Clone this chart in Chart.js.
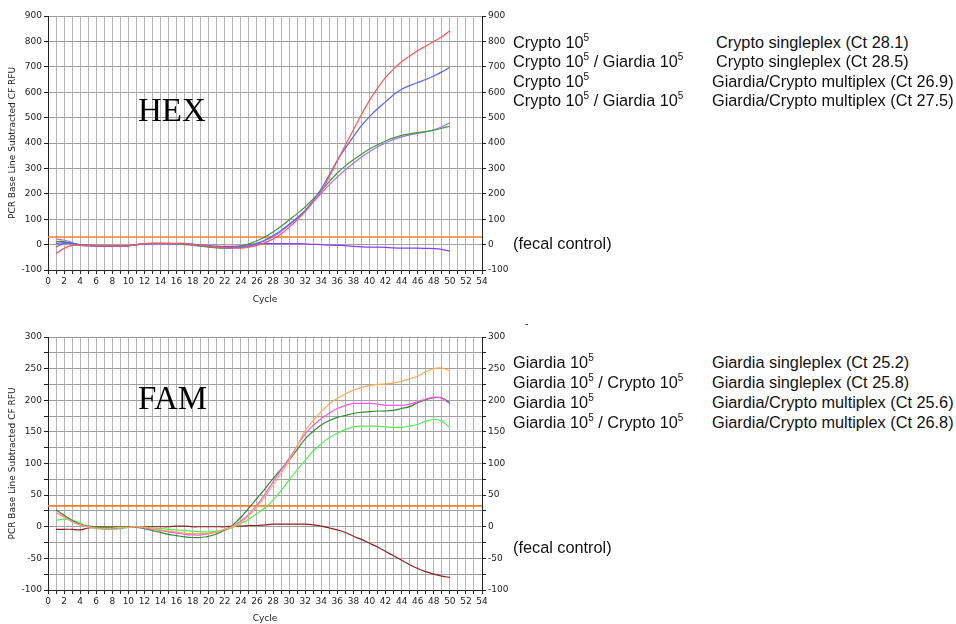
<!DOCTYPE html>
<html>
<head>
<meta charset="UTF-8">
<title>HEX / FAM real-time PCR</title>
<script src="https://cdn.jsdelivr.net/npm/chart.js@4.4.0/dist/chart.umd.min.js"></script>
<style>
    body { margin: 0; background: #fff; width: 956px; height: 624px; position: relative; overflow: hidden;
           font-family: "Liberation Sans", Arial, sans-serif; }
    canvas { position: absolute; left: 0; }
    .t { position: absolute; font-size: 16.3px; line-height: 20px; color: #111; white-space: nowrap; }
    .t sup { font-size: 10px; line-height: 0; vertical-align: 7px; }
    .big { position: absolute; font-family: "Liberation Serif", "Times New Roman", serif; font-size: 33px; line-height: 33px; color: #000; }
</style>
</head>
<body>
    <canvas id="hex" width="530" height="312" style="top:0"></canvas>
    <canvas id="fam" width="530" height="303" style="top:321px"></canvas>

    <div class="big" style="left:138px;top:94px">HEX</div>
    <div class="big" style="left:138px;top:382px">FAM</div>

    <div class="t" style="left:513px;top:32px">Crypto 10<sup>5</sup></div>
    <div class="t" style="left:513px;top:51px">Crypto 10<sup>5</sup> / Giardia 10<sup>5</sup></div>
    <div class="t" style="left:513px;top:71px">Crypto 10<sup>5</sup></div>
    <div class="t" style="left:513px;top:90px">Crypto 10<sup>5</sup> / Giardia 10<sup>5</sup></div>
    <div class="t" style="left:716px;top:32px">Crypto singleplex (Ct 28.1)</div>
    <div class="t" style="left:716px;top:51px">Crypto singleplex (Ct 28.5)</div>
    <div class="t" style="left:712px;top:71px">Giardia/Crypto multiplex (Ct 26.9)</div>
    <div class="t" style="left:712px;top:90px">Giardia/Crypto multiplex (Ct 27.5)</div>
    <div class="t" style="left:513px;top:233px">(fecal control)</div>

    <div class="t" style="left:525px;top:314px;font-size:10px">-</div>

    <div class="t" style="left:513px;top:352px">Giardia 10<sup>5</sup></div>
    <div class="t" style="left:513px;top:372px">Giardia 10<sup>5</sup> / Crypto 10<sup>5</sup></div>
    <div class="t" style="left:513px;top:392px">Giardia 10<sup>5</sup></div>
    <div class="t" style="left:513px;top:412px">Giardia 10<sup>5</sup> / Crypto 10<sup>5</sup></div>
    <div class="t" style="left:712px;top:352px">Giardia singleplex (Ct 25.2)</div>
    <div class="t" style="left:712px;top:372px">Giardia singleplex (Ct 25.8)</div>
    <div class="t" style="left:712px;top:392px">Giardia/Crypto multiplex (Ct 25.6)</div>
    <div class="t" style="left:712px;top:412px">Giardia/Crypto multiplex (Ct 26.8)</div>
    <div class="t" style="left:513px;top:537px">(fecal control)</div>

<script>
    // cycles 1..50
    const cycles = [1,2,3,4,5,6,7,8,9,10,11,12,13,14,15,16,17,18,19,20,21,22,23,24,25,
                    26,27,28,29,30,31,32,33,34,35,36,37,38,39,40,41,42,43,44,45,46,47,48,49,50];

    // HEX channel (Crypto)
    const hexSingle1 = [-35,-15,-3,-3,-4,-5,-5,-5,-5,-4,0,4,5,5,5,5,4,0,-3,-7,-10,-12,-13,-14,-10,
                        -3,8,22,42,68,97,130,168,208,268,330,392,452,512,568,616,658,692,720,742,764,782,800,818,842];
    const hexSingle2 = [-10,5,5,-2,-3,-5,-6,-6,-6,-5,0,3,4,4,4,4,5,2,-2,-6,-10,-12,-13,-12,-6,
                        4,18,36,56,80,106,135,175,220,275,332,380,425,468,504,535,562,590,612,626,638,650,664,680,698];
    const hexMulti1 = [12,12,5,-2,-2,-4,-6,-6,-6,-5,-1,3,5,5,5,3,2,-2,-6,-10,-13,-14,-12,-6,3,
                       15,30,50,72,97,122,148,180,212,248,282,310,334,356,376,393,408,420,430,436,441,445,451,458,466];
    const hexMulti2 = [22,18,8,-3,-5,-7,-7,-6,-6,-4,0,4,5,5,4,2,0,-3,-5,-8,-11,-12,-12,-9,-4,
                       5,16,31,52,77,104,134,168,202,236,266,295,320,345,366,385,400,414,424,432,438,444,452,464,480];
    const hexFecal = [5,8,5,0,-3,-5,-5,-5,-5,-4,-1,3,4,4,3,2,1,0,-2,-4,-6,-7,-7,-5,0,
                      3,4,4,4,4,4,3,1,0,-2,-3,-4,-7,-9,-10,-10,-11,-13,-14,-14,-14,-15,-16,-19,-26];
    const hexThreshold = 30;
    const hexTicks = [-100, 900, 100, 100];   // min, max, grid step, label step

    // FAM channel (Giardia)
    const famSingle1 = [22,15,8,3,0,-2,-2,-2,-1,-1,0,-1,-3,-5,-7,-8,-10,-11,-11,-10,-8,-4,0,7,18,
                        32,48,66,85,105,128,152,168,182,194,203,210,216,220,223,225,226,227,230,234,238,245,250,251,246];
    const famSingle2 = [22,16,8,3,0,-2,-3,-3,-2,-1,0,-2,-4,-6,-8,-10,-12,-13,-13,-11,-8,-4,1,9,20,
                        34,52,71,90,108,128,147,160,171,180,187,192,195,195,195,194,192,192,192,194,198,202,205,203,194];
    const famMulti1 = [27,18,10,4,1,0,0,0,0,0,-1,-3,-6,-9,-12,-14,-16,-17,-17,-15,-11,-5,3,15,30,
                       45,60,76,91,105,122,139,151,161,168,173,176,179,181,182,183,183,184,187,190,196,201,204,204,196];
    const famMulti2 = [10,12,10,6,0,-3,-4,-4,-3,-1,0,-1,-2,-3,-4,-5,-6,-7,-8,-8,-7,-5,-1,5,12,
                       21,30,42,57,74,90,105,120,131,141,148,154,158,159,159,159,158,157,157,159,162,167,170,167,157];
    const famFecal = [-4,-4,-4,-5,-2,-1,-1,-1,-1,0,0,0,0,0,0,1,1,0,0,0,0,0,1,1,2,
                      2,3,4,4,4,4,4,3,1,-2,-5,-9,-15,-20,-26,-32,-39,-46,-53,-60,-66,-71,-75,-78,-80];
    const famThreshold = 33;
    const famTicks = [-100, 300, 25, 50];

    const thresholdColor = '#ff7f2a';

    function pts(values) {
        return cycles.map((c, i) => ({ x: c, y: values[i] }));
    }

    function makeChart(id, series, ticks, threshold, xAxisHeight, titleBottom) {
        const [yMin, yMax, yStep, labelStep] = ticks;
        const datasets = series.map(s => ({
            data: pts(s.values),
            borderColor: s.color,
            borderWidth: 1.2,
            pointRadius: 0,
            tension: 0.3,
            fill: false
        }));
        datasets.push({
            data: [{ x: 0, y: threshold }, { x: 54, y: threshold }],
            borderColor: thresholdColor,
            borderWidth: 1.6,
            pointRadius: 0,
            fill: false
        });

        const tickFont = { family: 'DejaVu Sans', size: 9 };
        const yLabel = v => (v % labelStep === 0 ? v : '');

        new Chart(document.getElementById(id), {
            type: 'line',
            data: { datasets: datasets },
            options: {
                responsive: false,
                animation: false,
                events: [],
                layout: { padding: { top: 16, left: 0, right: 0, bottom: 0 } },
                plugins: { legend: { display: false }, tooltip: { enabled: false } },
                scales: {
                    x: {
                        type: 'linear', min: 0, max: 54,
                        afterFit: s => { s.height = xAxisHeight; },
                        grid: { color: '#b4b4b4', tickColor: '#222', tickLength: 4 },
                        border: { color: '#222' },
                        ticks: { stepSize: 1, autoSkip: false, maxRotation: 0, maxTicksLimit: 100, padding: 2,
                                 color: '#222', font: tickFont, callback: v => (v % 2 === 0 ? v : '') },
                        title: { display: true, text: 'Cycle', color: '#222',
                                 font: tickFont, padding: { top: 0, bottom: titleBottom } }
                    },
                    y: {
                        position: 'left', min: yMin, max: yMax,
                        afterFit: s => { s.width = 48; },
                        grid: { color: '#a0a0a0', tickColor: '#222', tickLength: 4 },
                        border: { color: '#222' },
                        ticks: { stepSize: yStep, maxTicksLimit: 100, padding: 2, color: '#222',
                                 font: tickFont, callback: yLabel },
                        title: { display: true, text: 'PCR Base Line Subtracted CF RFU', color: '#222',
                                 font: { family: 'DejaVu Sans', size: 9 }, padding: { top: 7, bottom: 0 } }
                    },
                    y2: {
                        position: 'right', min: yMin, max: yMax,
                        afterFit: s => { s.width = 48; },
                        grid: { drawOnChartArea: false, tickColor: '#222', tickLength: 4 },
                        border: { color: '#222' },
                        ticks: { stepSize: yStep, maxTicksLimit: 100, padding: 2, color: '#222',
                                 font: tickFont, callback: yLabel }
                    }
                }
            }
        });
    }

    makeChart('hex', [
        { values: hexSingle1, color: '#ff5858' },
        { values: hexSingle2, color: '#6060ff' },
        { values: hexMulti1, color: '#3c9a3c' },
        { values: hexMulti2, color: '#a66cff' },
        { values: hexFecal, color: '#8a40ff' }
    ], hexTicks, hexThreshold, 42, 7);

    makeChart('fam', [
        { values: famSingle1, color: '#ffaa55' },
        { values: famSingle2, color: '#ff55ee' },
        { values: famMulti1, color: '#2e8b2e' },
        { values: famMulti2, color: '#55ee55' },
        { values: famFecal, color: '#8b2222' }
    ], famTicks, famThreshold, 34, 0);
</script>
</body>
</html>
